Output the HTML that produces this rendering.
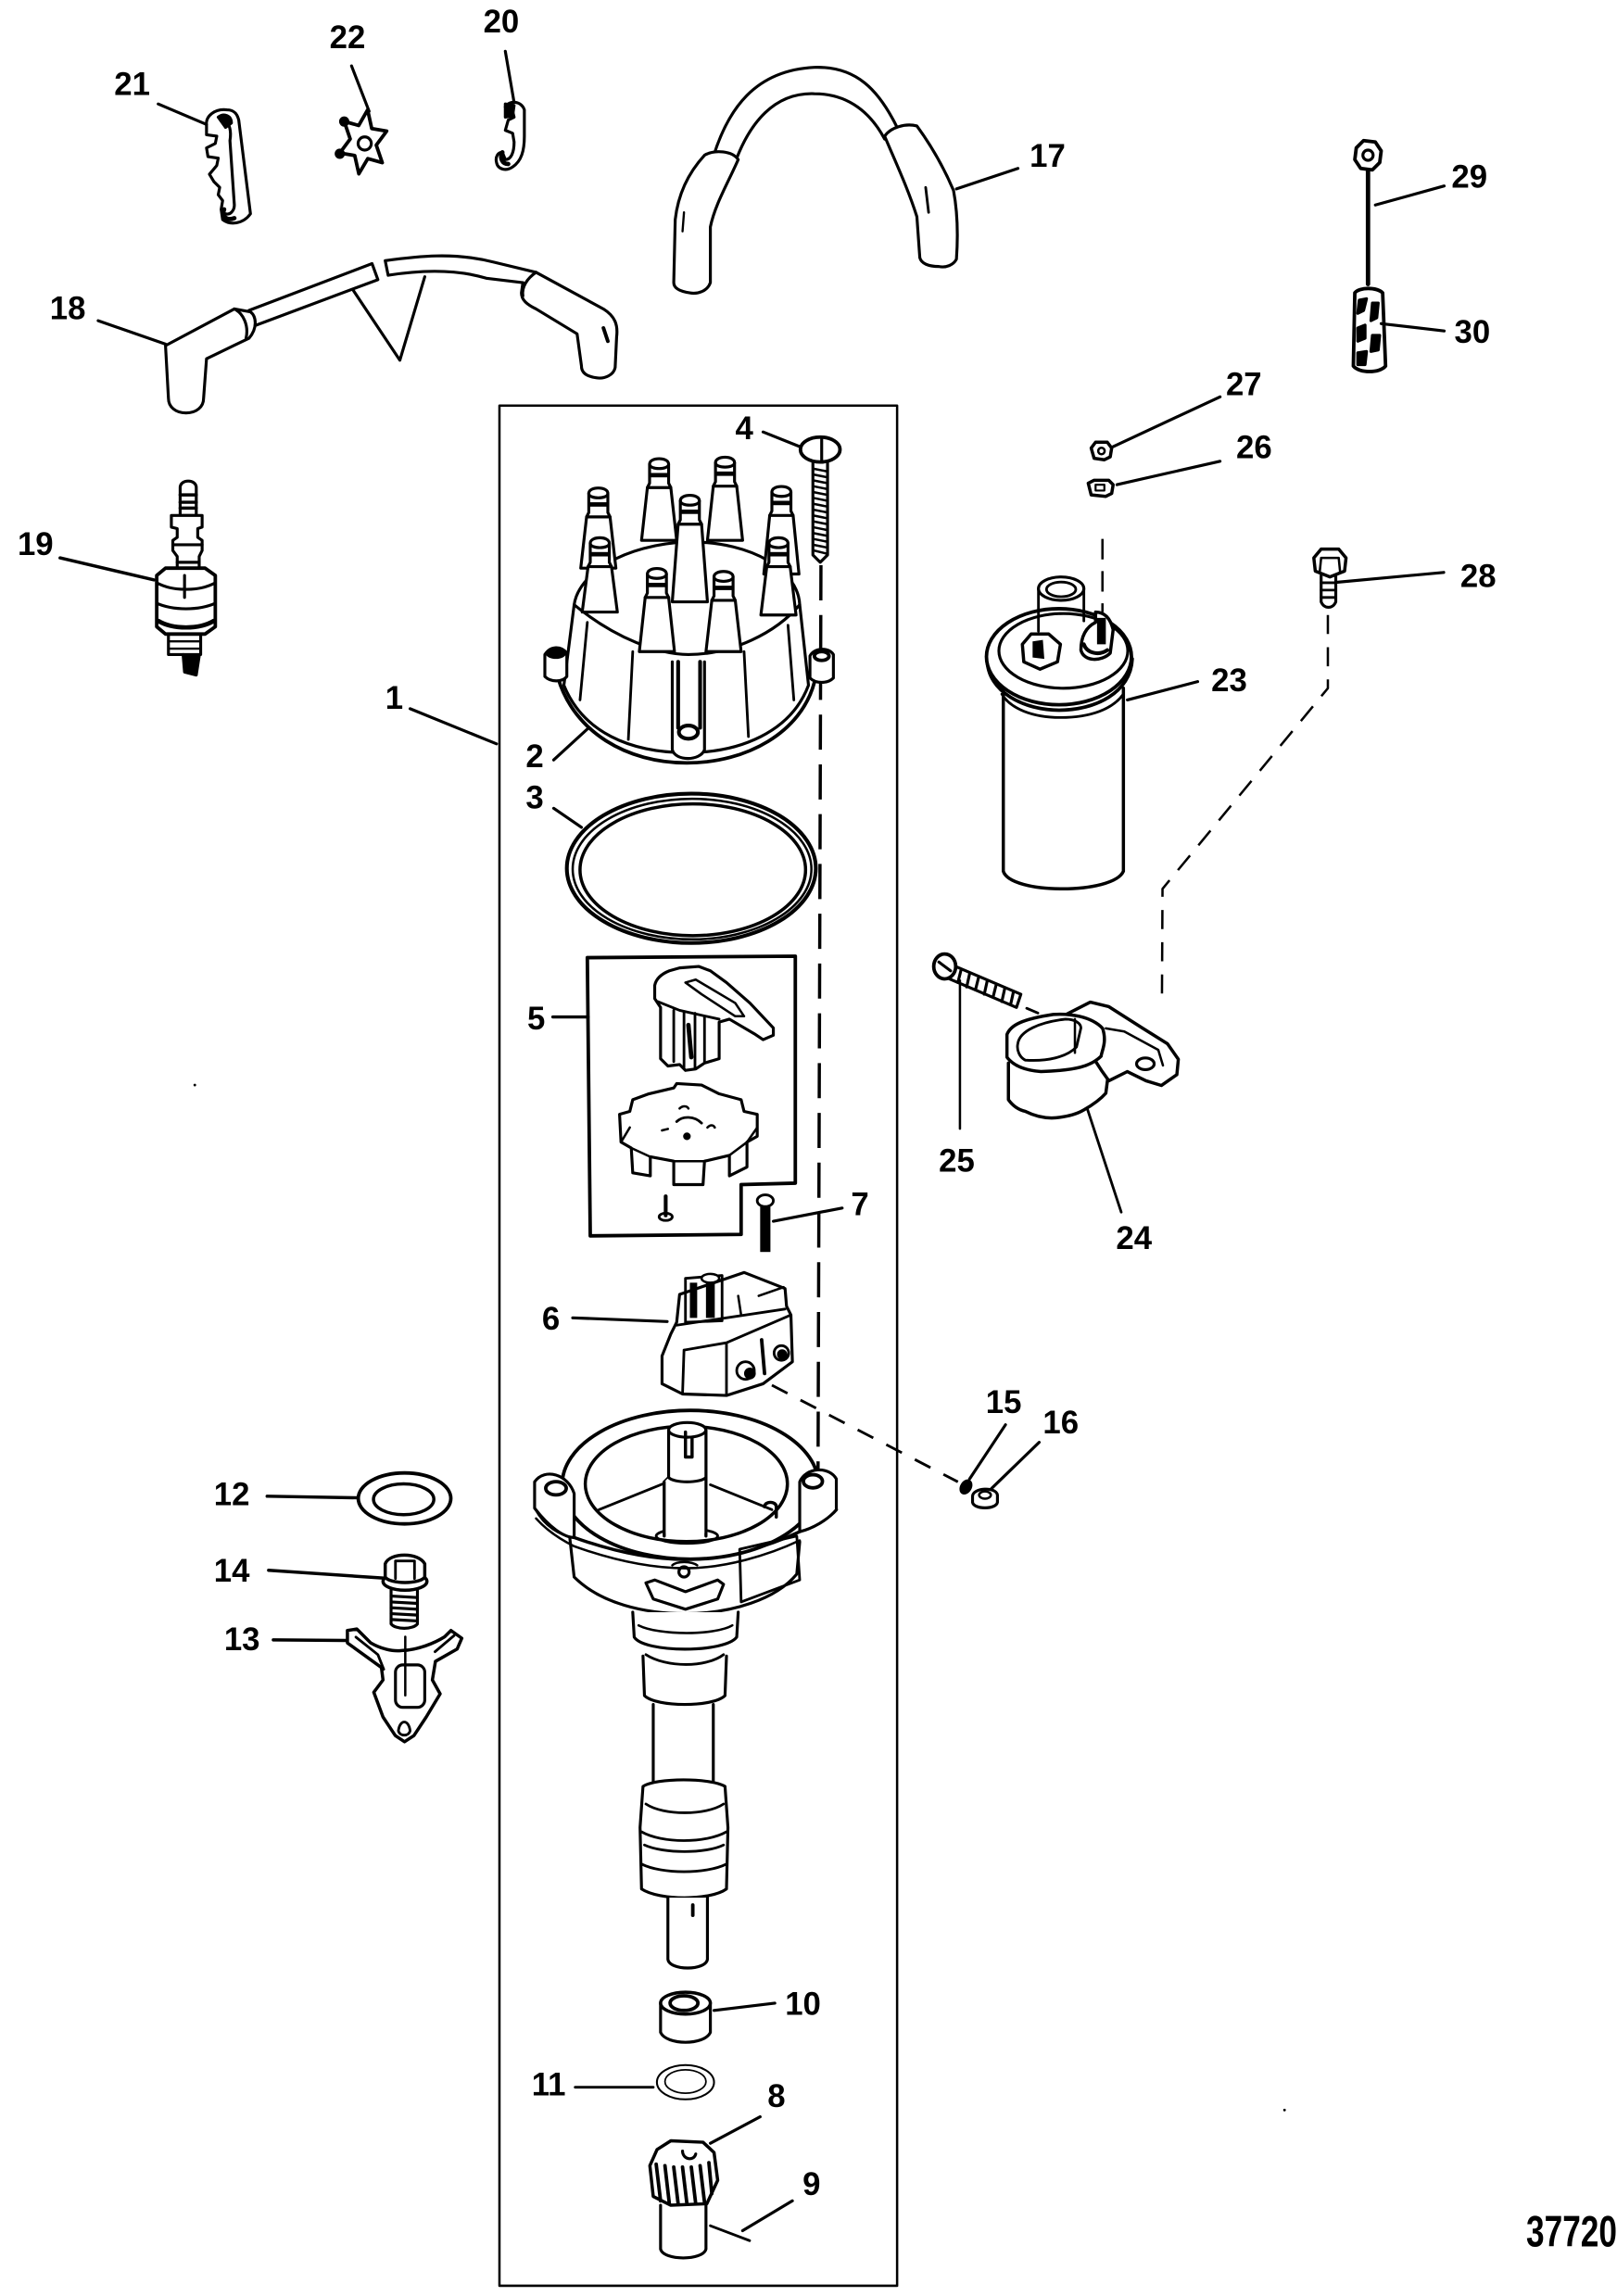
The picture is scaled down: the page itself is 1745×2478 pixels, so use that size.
<!DOCTYPE html>
<html><head><meta charset="utf-8">
<style>
html,body{margin:0;padding:0;background:#fff;}
svg{display:block;}
text{font-family:"Liberation Sans",Arial,sans-serif;font-weight:bold;font-size:22px;fill:#000;}
</style></head><body>
<svg width="1745" height="2478" viewBox="0 0 1104 1568" preserveAspectRatio="none" xmlns="http://www.w3.org/2000/svg">
<rect x="0" y="0" width="1104" height="1568" fill="#fff"/>
<g fill="none" stroke="#000" stroke-width="2" stroke-linecap="round" stroke-linejoin="round">

<!-- ===== Part 21 ===== -->
<path d="M155,75 C147,74 140,79 141,86 L141,92 L148,93 L147,98 L141,101 L142,107 L149,108 L148,113 L143,119 L146,124 L150,128 L149,133 L152,137 L151,143 L152,150 C157,154 166,153 171,146 L163,82 C162,78 160,75 155,75 Z"/>
<path d="M153,82 C157,84 158,90 157,96 L160,140 C160,144 157,147 154,146"/>
<path d="M149,80 C153,77 158,79 158,84 L154,87 Z" fill="#000"/>
<path d="M153,143 C151,148 155,151 160,149" stroke-width="3"/>
<line x1="108" y1="71" x2="141" y2="85"/>

<!-- ===== Part 22 ===== -->
<polygon points="251,75 253.8,87.8 264,89.5 256.9,99.1 261,111.1 251.1,108.3 245,118.7 242.2,106.2 232,104.5 239.1,94.9 235,82.9 244.9,85.7" stroke-width="2.4"/>
<circle cx="249" cy="98" r="4.5"/>
<circle cx="235" cy="83" r="2.5" fill="#000"/>
<circle cx="232" cy="105" r="2.5" fill="#000"/>
<line x1="240" y1="45" x2="252" y2="76"/>

<!-- ===== Part 20 ===== -->
<path d="M345,73 C348,68 356,69 358,75 L358,93 C358,103 356,110 350,114 C346,117 340,116 339,111 C338,107 340,104 343,104 L345,109 C349,109 351,104 351,97 L350,91 L345,89 L347,82 L351,80 L350,76 Z"/>
<path d="M345,71 L351,72 L350,79 L345,80 Z" fill="#000"/>
<path d="M343,104 C341,108 343,112 347,112" stroke-width="3"/>
<line x1="345" y1="35" x2="351" y2="70"/>

<!-- ===== Part 18 ===== -->
<path d="M113,236 L160,211 L171,213 C175,216 176,224 170,231 L141,245 L139,272 C139,278 134,282 127,282 C120,282 115,278 115,272 Z"/>
<path d="M160,211 C166,214 170,222 168,231"/>
<path d="M170,212 L254,180 L258,191 L175,222"/>
<path d="M263,178 C285,175 310,172 337,179 L366,186 M265,188 C290,184 312,184 332,190 L357,193 M263,178 L265,188"/>
<path d="M366,186 L412,211 C420,216 422,222 421,230 L420,251 C419,256 413,259 407,258 C400,257 397,254 397,250 L394,228 L366,211 C360,208 356,205 356,200 L357,193"/>
<path d="M366,186 C360,190 356,196 357,202"/>
<line x1="412" y1="224" x2="415" y2="233" stroke-width="2.5"/>
<polyline points="241,198 273,246 290,189"/>
<line x1="67" y1="219" x2="113" y2="235"/>

<!-- ===== Part 17 ===== -->
<path d="M487,107 C497,75 515,48 556,46 C585,45 600,62 612,86"/>
<path d="M503,108 C512,85 528,63 556,64 C580,64 595,78 604,95"/>
<path d="M481,106 C488,102 500,103 504,109 C497,125 488,140 485,155 L485,193 C483,199 476,201 471,200 C464,199 460,197 460,193 L461,150 C463,132 470,118 481,106 Z" fill="#fff"/>
<path d="M604,93 C608,87 618,84 626,86 C637,101 645,116 651,130 C654,146 654,163 653,177 C651,181 646,183 641,182 C634,182 629,180 628,176 L626,148 C620,129 612,112 604,93 Z" fill="#fff"/>
<line x1="467" y1="145" x2="466" y2="158" stroke-width="1.5"/>
<line x1="632" y1="128" x2="634" y2="145" stroke-width="1.8"/>
<line x1="653" y1="129" x2="695" y2="115"/>

<!-- ===== Part 29 ===== -->
<polygon points="926,101 931,96 939,97 943,103 942,111 937,116 929,115 925,109" stroke-width="2.4"/>
<circle cx="934" cy="106" r="3.5"/>
<line x1="934" y1="116" x2="934" y2="194" stroke-width="3"/>
<line x1="939" y1="140" x2="986" y2="127"/>

<!-- ===== Part 30 ===== -->
<path d="M925,200 C928,196 940,196 944,200 L946,250 C942,255 928,255 924,250 Z" fill="#fff" stroke-width="2.4"/>
<path d="M928,205 L933,204 L931,212 L927,214 Z M937,207 L941,207 L940,217 L936,219 Z M927,224 L932,222 L932,231 L927,233 Z M937,229 L942,229 L941,239 L936,240 Z M927,241 L933,240 L932,249 L927,249 Z" fill="#000"/>
<line x1="943" y1="221" x2="986" y2="226"/>

<!-- ===== Part 19 spark plug ===== -->
<path d="M123,333 C123,327 134,327 134,333 L134,352 L123,352 Z" fill="#fff"/>
<path d="M123,338 L134,338 M123,343 L134,343 M123,347 L134,347" stroke-width="2.2"/>
<path d="M117,352 L138,352 L138,360 L135,361 L135,367 L138,369 L138,376 L136,380 L136,388 L121,388 L121,380 L118,376 L118,369 L121,367 L121,361 L117,360 Z" fill="#fff"/>
<path d="M118,372 L138,372 M121,384 L136,384" stroke-width="2"/>
<path d="M107,393 L113,388 L140,388 L147,393 L147,428 L140,433 L113,433 L107,428 Z" fill="#fff" stroke-width="2.4"/>
<path d="M126,393 L126,408 M107,398 C118,404 136,404 147,398 M107,412 C118,417 136,417 147,412" stroke-width="2"/>
<path d="M108,424 C118,430 136,430 146,424" stroke-width="3"/>
<path d="M115,433 L115,447 L137,447 L137,433" />
<path d="M115,438 L137,438 M115,443 L137,443" stroke-width="1.5"/>
<path d="M125,447 L126,459 L134,461 L136,448 Z" fill="#000"/>
<line x1="41" y1="381" x2="105" y2="396" stroke-width="2.2"/>

<!-- ===== Main box ===== -->
<rect x="341" y="277" width="271.5" height="1284" stroke-width="1.6"/>
<line x1="280" y1="484" x2="339" y2="508"/>

<!-- ===== Dashed vertical line (screw 4 to housing) ===== -->
<line x1="560.5" y1="386" x2="558.5" y2="1008" stroke-dasharray="24 10" stroke-linecap="butt" stroke-width="2.2"/>

<!-- ===== Part 4 screw ===== -->
<path d="M555,315 L555,379 L560,384 L565,379 L565,315" fill="#fff" stroke-width="2"/>
<path d="M555,320 L565,322 M555,324 L565,326 M555,328 L565,330 M555,332 L565,334 M555,336 L565,338 M555,340 L565,342 M555,344 L565,346 M555,348 L565,350 M555,352 L565,354 M555,356 L565,358 M555,360 L565,362 M555,364 L565,366 M555,368 L565,370 M555,372 L565,374 M556,376 L564,378" stroke-width="1.6"/>
<ellipse cx="560" cy="307" rx="13.5" ry="8.5" fill="#fff" stroke-width="2.4"/>
<line x1="561" y1="299" x2="561" y2="315" stroke-width="2"/>
<line x1="521" y1="295" x2="546" y2="305"/>

<!-- ===== Part 2 cap ===== -->
<path d="M392,413 C395,392 425,372 470,370 C515,370 545,390 546,413" fill="#fff"/>
<path d="M381,463 C392,500 428,521 469,521 C510,521 547,500 556,466" stroke-width="2.4"/>
<path d="M385,468 L392,413 C420,436 450,447 470,447 C500,447 530,432 546,413 L552,468 C540,500 505,514 469,514 C430,514 398,500 385,468 Z" fill="#fff"/>
<path d="M401,425 L396,478 M432,445 L429,505 M508,445 L511,503 M538,427 L542,478" stroke-width="1.8"/>
<path d="M372,447 L372,462 C376,466 384,466 387,462 L387,446 C383,441 376,441 372,447 Z" fill="#fff"/>
<ellipse cx="379.5" cy="446" rx="6" ry="3" fill="#000"/>
<path d="M553,448 L553,463 C557,467 565,467 569,463 L569,447 C566,442 556,442 553,448 Z" fill="#fff"/>
<ellipse cx="561" cy="448" rx="5" ry="3" stroke-width="2.4"/>
<path d="M459,452 L459,512 C461,520 478,520 481,512 L481,452" fill="#fff"/>
<path d="M463,452 L463,497 M478,452 L478,497" stroke-width="2.6"/>
<ellipse cx="470" cy="500" rx="6.5" ry="4.5" stroke-width="2.6"/>
<!-- towers -->
<g id="towers">
<g transform="translate(408.5,333)"><path d="M-6.5,4 C-6.5,-1 6.5,-1 6.5,4 L6.5,17 L8,20 L12,55 L-12,55 L-8,20 L-6.5,17 Z" fill="#fff"/><path d="M-6.5,4 C-6.5,8 6.5,8 6.5,4 M-8,20 L8,20"/><rect x="-6.5" y="10" width="13" height="3" fill="#000" stroke="none"/></g>
<g transform="translate(450,313)"><path d="M-6.5,4 C-6.5,-1 6.5,-1 6.5,4 L6.5,17 L8,20 L12,56 L-12,56 L-8,20 L-6.5,17 Z" fill="#fff"/><path d="M-6.5,4 C-6.5,8 6.5,8 6.5,4 M-8,20 L8,20"/><rect x="-6.5" y="10" width="13" height="3" fill="#000" stroke="none"/></g>
<g transform="translate(495,312)"><path d="M-6.5,4 C-6.5,-1 6.5,-1 6.5,4 L6.5,17 L8,20 L12,57 L-12,57 L-8,20 L-6.5,17 Z" fill="#fff"/><path d="M-6.5,4 C-6.5,8 6.5,8 6.5,4 M-8,20 L8,20"/><rect x="-6.5" y="10" width="13" height="3" fill="#000" stroke="none"/></g>
<g transform="translate(533.5,332)"><path d="M-6.5,4 C-6.5,-1 6.5,-1 6.5,4 L6.5,17 L8,20 L12,60 L-12,60 L-8,20 L-6.5,17 Z" fill="#fff"/><path d="M-6.5,4 C-6.5,8 6.5,8 6.5,4 M-8,20 L8,20"/><rect x="-6.5" y="10" width="13" height="3" fill="#000" stroke="none"/></g>
<g transform="translate(471,338)"><path d="M-6.5,4 C-6.5,-1 6.5,-1 6.5,4 L6.5,17 L8,20 L12,73 L-12,73 L-8,20 L-6.5,17 Z" fill="#fff"/><path d="M-6.5,4 C-6.5,8 6.5,8 6.5,4 M-8,20 L8,20"/><rect x="-6.5" y="10" width="13" height="3" fill="#000" stroke="none"/></g>
<g transform="translate(409.5,367)"><path d="M-6.5,4 C-6.5,-1 6.5,-1 6.5,4 L6.5,17 L8,20 L12,51 L-12,51 L-8,20 L-6.5,17 Z" fill="#fff"/><path d="M-6.5,4 C-6.5,8 6.5,8 6.5,4 M-8,20 L8,20"/><rect x="-6.5" y="10" width="13" height="3" fill="#000" stroke="none"/></g>
<g transform="translate(531.5,367)"><path d="M-6.5,4 C-6.5,-1 6.5,-1 6.5,4 L6.5,17 L8,20 L12,53 L-12,53 L-8,20 L-6.5,17 Z" fill="#fff"/><path d="M-6.5,4 C-6.5,8 6.5,8 6.5,4 M-8,20 L8,20"/><rect x="-6.5" y="10" width="13" height="3" fill="#000" stroke="none"/></g>
<g transform="translate(448.5,388)"><path d="M-6.5,4 C-6.5,-1 6.5,-1 6.5,4 L6.5,17 L8,20 L12,57 L-12,57 L-8,20 L-6.5,17 Z" fill="#fff"/><path d="M-6.5,4 C-6.5,8 6.5,8 6.5,4 M-8,20 L8,20"/><rect x="-6.5" y="10" width="13" height="3" fill="#000" stroke="none"/></g>
<g transform="translate(494,390)"><path d="M-6.5,4 C-6.5,-1 6.5,-1 6.5,4 L6.5,17 L8,20 L12,55 L-12,55 L-8,20 L-6.5,17 Z" fill="#fff"/><path d="M-6.5,4 C-6.5,8 6.5,8 6.5,4 M-8,20 L8,20"/><rect x="-6.5" y="10" width="13" height="3" fill="#000" stroke="none"/></g>
</g>
<line x1="378" y1="519" x2="402" y2="497"/>

<!-- ===== Part 3 ring ===== -->
<ellipse cx="472" cy="593" rx="85" ry="51" stroke-width="2.6"/>
<ellipse cx="472.5" cy="593.5" rx="81.5" ry="48" stroke-width="1.6"/>
<ellipse cx="473" cy="594" rx="77" ry="45" stroke-width="2.2"/>
<line x1="378" y1="552" x2="397" y2="565"/>

<!-- ===== Part 5 box ===== -->
<path d="M401,654 L543,653 L543,808 L506,809 L506,843 L403,844 Z" stroke-width="2.4"/>
<line x1="377.5" y1="694.5" x2="401.5" y2="694.5" stroke-width="2.2"/>
<!-- rotor -->
<path d="M447,682 L447,673 C448,668 452,665 457,663 L464,661 L477,660 L485,663 L496,671 L512,685 L528,702 L528,707 L521,710 L515,706 L498,696 L491,698 L491,723 L481,726 L475,730 L468,731 L464,727 L456,728 L451,723 L451,688 Z" fill="#fff"/>
<path d="M468,671 L475,669 L502,685 L508,694 L502,694 L479,679 Z" stroke-width="1.6"/>
<path d="M449,684 L464,690 L491,696" stroke-width="1.8"/>
<path d="M460,690 L460,725 M467,691 L467,729 M474.5,692 L474.5,729 M481,694 L481,725" stroke-width="1.8"/>
<path d="M470,700 L472,722" stroke-width="3"/>
<!-- reluctor -->
<path d="M423,761 L430,759 L432,751 L443,747 L460,743 L462,740 L479,741 L491,747 L506,751 L508,759 L517,761 L517,776 L510,780 L510,797 L498,803 L498,789 L481,793 L480,809 L460,809 L460,793 L444,790 L444,803 L432,801 L431,784 L424,780 Z" fill="#fff"/>
<path d="M431,784 L444,790 M460,793 L481,793 M498,789 L510,780 M424,780 L430,770 M510,780 L517,770" stroke-width="1.6"/>
<path d="M462,766 C466,762 474,762 479,767" stroke-width="1.8"/>
<circle cx="469" cy="776" r="1.6" fill="#000"/>
<path d="M464,757 C466,755 469,755 470,757 M452,772 L456,771 M483,770 C485,768 487,768 488,770" stroke-width="1.6"/>
<!-- small screw -->
<line x1="454.5" y1="817" x2="454.5" y2="830" stroke-width="2.6"/>
<ellipse cx="454.5" cy="831" rx="4.5" ry="2.5" stroke-width="1.8"/>

<!-- ===== Part 7 screw ===== -->
<rect x="519" y="823" width="7" height="32" fill="#000" stroke="none"/>
<ellipse cx="522.5" cy="820" rx="5.5" ry="4" fill="#fff" stroke-width="1.8"/>
<line x1="528" y1="834" x2="575" y2="825"/>

<!-- ===== Part 6 module ===== -->
<path d="M452,945 L452,926 L458,911 L462,903 L464,884 L508,869 L536,880 L537,892 L540,898 L541,930 L521,945 L496,953 L466,952 Z" fill="#fff"/>
<path d="M462,905 L536,894 M467,922 L496,917 L540,898 M496,917 L496,953 M467,922 L466,952" stroke-width="1.8"/>
<path d="M468,873 L493,871 L493,902 L468,903 Z" stroke-width="1.8"/>
<path d="M471,876 L476,876 L476,900 L471,900 Z M482,874 L488,874 L488,900 L482,900 Z" fill="#000" stroke="none"/>
<ellipse cx="485" cy="873" rx="6" ry="3" fill="#fff" stroke-width="1.6"/>
<path d="M518,885 L535,879 M504,885 L506,898" stroke-width="1.6"/>
<circle cx="509" cy="936" r="6" stroke-width="1.8"/>
<circle cx="512" cy="938" r="3" fill="#000"/>
<circle cx="533.5" cy="924" r="5" stroke-width="1.8"/>
<circle cx="534" cy="925" r="2.5" fill="#000"/>
<path d="M520,915 L522,938" stroke-width="2.4"/>
<line x1="391" y1="900" x2="455.5" y2="902.5"/>
<!-- dashed diagonal to 15/16 -->
<line x1="527" y1="946" x2="654" y2="1012" stroke-dasharray="12 10" stroke-linecap="butt" stroke-width="1.8"/>
<!-- 15 & 16 -->
<ellipse cx="659.5" cy="1015.5" rx="4" ry="5.5" transform="rotate(30 659.5 1015.5)" fill="#000" stroke="none"/>
<line x1="686.5" y1="973" x2="662" y2="1010"/>
<path d="M664,1022 C664,1016 680,1015 681,1021 L681,1026 C680,1031 665,1031 664,1026 Z" fill="#fff"/>
<ellipse cx="672.5" cy="1021" rx="4" ry="2.5" stroke-width="1.6"/>
<line x1="709.5" y1="985" x2="677" y2="1016.5"/>

<!-- ===== Housing ===== -->
<path d="M389,1050 L392,1077 C410,1095 440,1102 468,1102 C500,1102 530,1092 544,1075 L546,1053" fill="#fff"/>
<path d="M366,1031 C372,1042 382,1048 392,1050 C420,1060 445,1065 468,1065 C495,1065 525,1056 546,1046 C556,1042 566,1037 571,1031" stroke-width="2.2"/>
<path d="M366,1037 C374,1046 384,1052 392,1056 C420,1066 445,1071 468,1071 C495,1071 525,1062 546,1052" stroke-width="1.6"/>
<ellipse cx="471.3" cy="1014" rx="87.5" ry="50.8" fill="#fff" stroke-width="2.4"/>
<ellipse cx="468.6" cy="1013.4" rx="69" ry="39.4" stroke-width="2.2"/>
<path d="M409,1031 L456,1012 M485,1014 L527,1031" stroke-width="1.8"/>
<!-- ears -->
<path d="M365,1012 L365,1030 C375,1043 385,1050 392,1050 L392,1020 C388,1007 372,1002 365,1012 Z" fill="#fff"/>
<ellipse cx="379.6" cy="1016.4" rx="7" ry="4.5" stroke-width="2.4"/>
<path d="M546,1012 C550,1002 566,1001 571,1010 L571,1031 C565,1038 555,1044 546,1046 Z" fill="#fff"/>
<ellipse cx="555" cy="1011.6" rx="6.5" ry="4.5" stroke-width="2.4"/>
<!-- shaft top -->
<path d="M456.5,977 L456.5,1009 L453.5,1012 L453.5,1049 M482,977 L482,1049" fill="none"/>
<ellipse cx="469" cy="1049" rx="21" ry="5" stroke-width="1.8"/>
<path d="M456.5,977 L456.5,1009 L453.5,1012 L453.5,1047 L482,1047 L482,977 Z" fill="#fff" stroke="none"/>
<path d="M456.5,977 L456.5,1009 C460,1013 478,1013 482,1009 M453.5,1012 L453.5,1049 M482,977 L482,1049"/>
<ellipse cx="469.2" cy="976.5" rx="12.7" ry="5" fill="#fff"/>
<path d="M468,978 L468,995 L472.5,995 L472.5,982" stroke-width="2.2"/>
<!-- chevron, boss, window -->
<path d="M441,1081 L447,1079 L468,1087 L490,1079 L494,1082 L490,1092 L468,1099 L446,1092 Z" stroke-width="2"/>
<circle cx="467" cy="1073.5" r="3.5" stroke-width="2"/>
<path d="M459,1069 C462,1066 472,1066 476,1069" stroke-width="1.6"/>
<path d="M505,1058 L544,1049 L546,1079 L506,1094 Z" stroke-width="1.8"/>
<path d="M522,1029 C522,1025 530,1025 530,1029 L530,1036" stroke-width="2.2"/>

<!-- ===== Lower shaft ===== -->
<path d="M432,1101 L433,1118 C440,1129 495,1129 503,1118 L504,1101" fill="#fff"/>
<path d="M436,1110 C450,1117 488,1117 500,1110" stroke-width="1.6"/>
<path d="M439,1131 L440,1158 C448,1166 487,1166 495,1158 L496,1131" fill="#fff"/>
<path d="M441,1130 C455,1139 482,1139 494,1130" stroke-width="1.8"/>
<path d="M446,1164 L446,1218 M487,1164 L487,1218"/>
<path d="M439,1220 L437,1248 L438,1290 C450,1298 485,1298 496,1290 L497,1248 L495,1220 C485,1214 448,1214 439,1220 Z" fill="#fff"/>
<path d="M441,1232 C453,1240 482,1240 494,1232 M438,1251 C452,1259 482,1259 496,1251 M440,1260 C453,1266 482,1266 494,1260 M438,1273 C452,1280 482,1280 496,1273" stroke-width="1.8"/>
<path d="M456,1296 L456,1338 C457,1346 482,1346 483,1338 L483,1296" fill="#fff"/>
<line x1="473" y1="1301" x2="473" y2="1308" stroke-width="2.4"/>

<!-- ===== Part 10 ===== -->
<path d="M451,1368 L451,1388 C455,1397 481,1397 485,1388 L485,1368" fill="#fff"/>
<ellipse cx="468" cy="1368" rx="17" ry="7.5" fill="#fff" stroke-width="2.2"/>
<ellipse cx="467" cy="1368" rx="9.5" ry="5" stroke-width="2.4"/>
<line x1="487.5" y1="1373" x2="529" y2="1368"/>

<!-- ===== Part 11 ===== -->
<ellipse cx="468" cy="1422" rx="19.5" ry="11.7" stroke-width="1.3"/>
<ellipse cx="468" cy="1421.5" rx="14" ry="8" stroke-width="1.1"/>
<line x1="392.7" y1="1425.4" x2="446" y2="1425.4" stroke-width="1.8"/>

<!-- ===== Part 8 gear ===== -->
<path d="M451,1506 L451,1536 C453,1544 480,1544 482,1536 L482,1506" fill="#fff"/>
<path d="M458,1462 L480,1463 L487.5,1470 L490,1489 L482.6,1505 L458,1506 L446,1500 L443.7,1479 L448.6,1468 Z" fill="#fff" stroke-width="2.2"/>
<path d="M466,1469 C466,1475 474,1476 475,1471" stroke-width="2"/>
<path d="M448,1478 L451,1503 M454,1479 L457,1505 M460,1480 L463,1505 M466,1480 L469,1505 M472,1480 L475,1505 M478,1479 L481,1504 M484,1477 L486,1498" stroke-width="2.4"/>
<line x1="519" y1="1445.6" x2="485" y2="1463.7"/>
<line x1="541" y1="1503" x2="507" y2="1523.4"/>
<line x1="485" y1="1520" x2="511.8" y2="1530.2" stroke-width="1.8"/>

<!-- ===== Part 12 washer ===== -->
<ellipse cx="276.2" cy="1023.3" rx="31.6" ry="17.4" stroke-width="2.4"/>
<ellipse cx="275.6" cy="1023.9" rx="20.6" ry="10.5" stroke-width="2.2"/>
<line x1="182.4" y1="1021.8" x2="244.6" y2="1022.9" stroke-width="2.2"/>

<!-- ===== Part 14 bolt ===== -->
<path d="M267,1086 L267,1109 C270,1113 282,1113 285,1109 L285,1086" fill="#fff"/>
<path d="M267,1090 L285,1091 M267,1094 L285,1095 M267,1098 L285,1099 M267,1102 L285,1103 M267,1106 L285,1107" stroke-width="2"/>
<ellipse cx="276.5" cy="1080" rx="15" ry="6" fill="#fff" stroke-width="2.2"/>
<path d="M263,1077 L263,1068 C266,1060 286,1060 290,1068 L290,1077 C287,1082 266,1082 263,1077 Z" fill="#fff" stroke-width="2.2"/>
<path d="M270,1066 L270,1078 M283,1066 L283,1078 M270,1066 L283,1066" stroke-width="1.8"/>
<line x1="183.4" y1="1072.4" x2="261.5" y2="1077.7" stroke-width="2.2"/>

<!-- ===== Part 13 ===== -->
<path d="M237.2,1113.5 L243.6,1112.5 L253.1,1122 C260,1126 268,1128 274.2,1127.2 C285,1127 297,1122 303.6,1117.8 L307.9,1113.5 L315.3,1118.8 L312.1,1126.2 L297.3,1134.6 L295.2,1147.3 L300.5,1156.8 L291,1172.6 L282.6,1185.3 L276.2,1189.5 L269.9,1185.3 L261.5,1172.6 L255.2,1155.7 L261.5,1147.3 L260.4,1138.8 L237.2,1122 Z" fill="#fff" stroke-width="2.2"/>
<path d="M243,1118 L258,1130 L262,1140 M310,1117 L297,1128" stroke-width="1.8"/>
<rect x="270" y="1137" width="20" height="29" rx="5" stroke-width="2"/>
<line x1="276.7" y1="1117.8" x2="276.7" y2="1157.8" stroke-width="1.6"/>
<path d="M272,1182 C273,1174 279,1174 280,1182 C279,1186 273,1186 272,1182 Z" stroke-width="1.8"/>
<line x1="186.6" y1="1119.9" x2="236.2" y2="1120.3" stroke-width="2.2"/>

<!-- ===== Part 27, 26 nuts ===== -->
<polygon points="745,306 748,302 756,302 759,306 758,312 754,314 747,313" fill="#fff" stroke-width="2.2"/>
<circle cx="752" cy="308" r="2.2" stroke-width="1.6"/>
<line x1="760" y1="305" x2="833" y2="271"/>
<polygon points="743,330 747,328 757,328 760,331 759,337 755,339 745,338" fill="#fff" stroke-width="2.2"/>
<rect x="748" y="331" width="6" height="4" stroke-width="1.4"/>
<line x1="762.6" y1="331" x2="833" y2="315"/>
<line x1="752.7" y1="368" x2="752.7" y2="418" stroke-dasharray="14 8" stroke-linecap="butt" stroke-width="1.6"/>

<!-- ===== Part 23 coil ===== -->
<path d="M685,470 L685,595 C690,611 760,611 767,595 L767,470" fill="#fff" stroke-width="2.2"/>
<path d="M674,450 C674,473 700,485 723,485 C748,485 772,473 773,450" stroke-width="2.4"/>
<path d="M684,474 C690,484 705,490 724,490 C745,490 760,484 767,474" stroke-width="1.8"/>
<ellipse cx="723" cy="448.5" rx="49.5" ry="32.8" fill="#fff" stroke-width="2.4"/>
<ellipse cx="726" cy="444.5" rx="44" ry="25.5" stroke-width="2"/>
<path d="M709,402 L709,431 M740,402 L740,424" stroke-width="1.8"/>
<ellipse cx="724.5" cy="402" rx="15.5" ry="8" fill="#fff" stroke-width="2"/>
<ellipse cx="724.5" cy="402.5" rx="10" ry="5" stroke-width="1.8"/>
<polygon points="698,440 704,433 716,433 724,440 722,452 710,457 699,452" fill="#fff" stroke-width="2.2"/>
<path d="M705,438 L712,437 L713,450 L705,449 Z" fill="#000" stroke="none"/>
<path d="M748,418 L748,425 C742,428 738,434 738,444 C740,452 752,452 758,446 L760,430 C758,422 754,418 748,418 Z" fill="#fff" stroke-width="2.2"/>
<path d="M749,422 L755,422 L755,440 L749,440 Z" fill="#000" stroke="none"/>
<path d="M740,440 C742,446 750,448 756,444" stroke-width="2.6"/>
<line x1="769.7" y1="478" x2="817.7" y2="465.5"/>

<!-- ===== Part 28 bolt ===== -->
<path d="M902,393 L902,411 C904,416 910,416 912,411 L912,393" fill="#fff"/>
<path d="M902,398 L912,398 M902,403 L912,403 M902,408 L912,408" stroke-width="1.8"/>
<polygon points="897,381 902,375 914,375 919,381 918,390 908,394 898,390" fill="#fff" stroke-width="2.2"/>
<path d="M902,381 L914,381 M902,381 L901,391 M914,381 L915,391" stroke-width="1.6"/>
<line x1="912.3" y1="397.7" x2="985.7" y2="390.9"/>
<polyline points="906.6,420 906.6,470 793.7,607 793.3,686" stroke-dasharray="13 9" stroke-linecap="butt" stroke-width="1.6"/>

<!-- ===== Part 24 clamp ===== -->
<path d="M688.5,726 L688.5,751 C692,756 696,758 700,759 C706,762 712,763.5 718,763.5 C728,763 735,761 740,758 C747,754 752,750 755,746.6 L757,731" fill="#fff" stroke-width="2.2"/>
<path d="M727.5,693 L744.4,684.4 L757.1,687.5 L780.3,702.3 L797.1,712.8 L804.5,723.4 L803.5,733.9 L792.9,741.3 L782.4,738.1 L769.7,731.8 L757.1,738.1 L752,731 Z" fill="#fff" stroke-width="2.2"/>
<path d="M755,702.3 L767.6,704.4 L790.8,717 L794,727.6" stroke-width="1.6"/>
<ellipse cx="782" cy="726.5" rx="6" ry="4" stroke-width="2"/>
<path d="M687.5,706.5 C690,700 698,696 719,692.8 C730,692 745,694 752.8,702.3 C756,712 752,718 751.8,721.3 C745,728 735,731 710.7,731.8 C700,731 692,728 687.5,722 Z" fill="#fff" stroke-width="2.2"/>
<path d="M694.9,712.8 C696,704 710,698 727.5,696 C734,696 738,699 738,702 L735,715 C728,722 715,725 700,724 C696,722 694,717 694.9,712.8 Z" stroke-width="1.8"/>
<line x1="733.9" y1="696" x2="733.9" y2="719" stroke-width="1.6"/>
<line x1="742.3" y1="757.1" x2="765.5" y2="827.8" stroke-width="1.8"/>

<!-- ===== Part 25 bolt ===== -->
<path d="M650,659 L697,679 L694,688 L647,668 Z" fill="#fff" stroke-width="2"/>
<path d="M656,663 L654,671 M662,665 L660,674 M668,668 L666,676 M674,670 L672,679 M680,673 L678,681 M686,675 L684,684 M692,677 L690,686" stroke-width="2"/>
<ellipse cx="645" cy="660" rx="7.5" ry="8.5" fill="#fff" stroke-width="2.4"/>
<path d="M641,657 L649,663" stroke-width="2"/>
<line x1="701" y1="688.6" x2="708.6" y2="691.8" stroke-width="1.8"/>
<line x1="655.4" y1="669.6" x2="655.4" y2="770.8" stroke-width="1.6"/>

<!-- stray dots -->
<circle cx="133" cy="741" r="0.9" fill="#000" stroke="none"/>
<circle cx="877" cy="1441" r="0.9" fill="#000" stroke="none"/>
</g>

<!-- ===== Labels ===== -->
<text x="78" y="65">21</text>
<text x="225" y="33">22</text>
<text x="330" y="22">20</text>
<text x="703" y="114">17</text>
<text x="991" y="128">29</text>
<text x="993" y="234">30</text>
<text x="34" y="218">18</text>
<text x="502" y="300">4</text>
<text x="837" y="270">27</text>
<text x="844" y="313">26</text>
<text x="12" y="379">19</text>
<text x="997" y="401">28</text>
<text x="827" y="472">23</text>
<text x="263" y="484">1</text>
<text x="359" y="524">2</text>
<text x="359" y="552">3</text>
<text x="360" y="703">5</text>
<text x="581" y="830">7</text>
<text x="641" y="800">25</text>
<text x="762" y="853">24</text>
<text x="370" y="908">6</text>
<text x="673" y="965">15</text>
<text x="712" y="979">16</text>
<text x="146" y="1028">12</text>
<text x="146" y="1080">14</text>
<text x="153" y="1127">13</text>
<text x="536" y="1376">10</text>
<text x="363" y="1431">11</text>
<text x="524" y="1439">8</text>
<text x="548" y="1499">9</text>
<text x="1042" y="1534" style="font-size:30px" textLength="62" lengthAdjust="spacingAndGlyphs">37720</text>
</svg>
</body></html>
